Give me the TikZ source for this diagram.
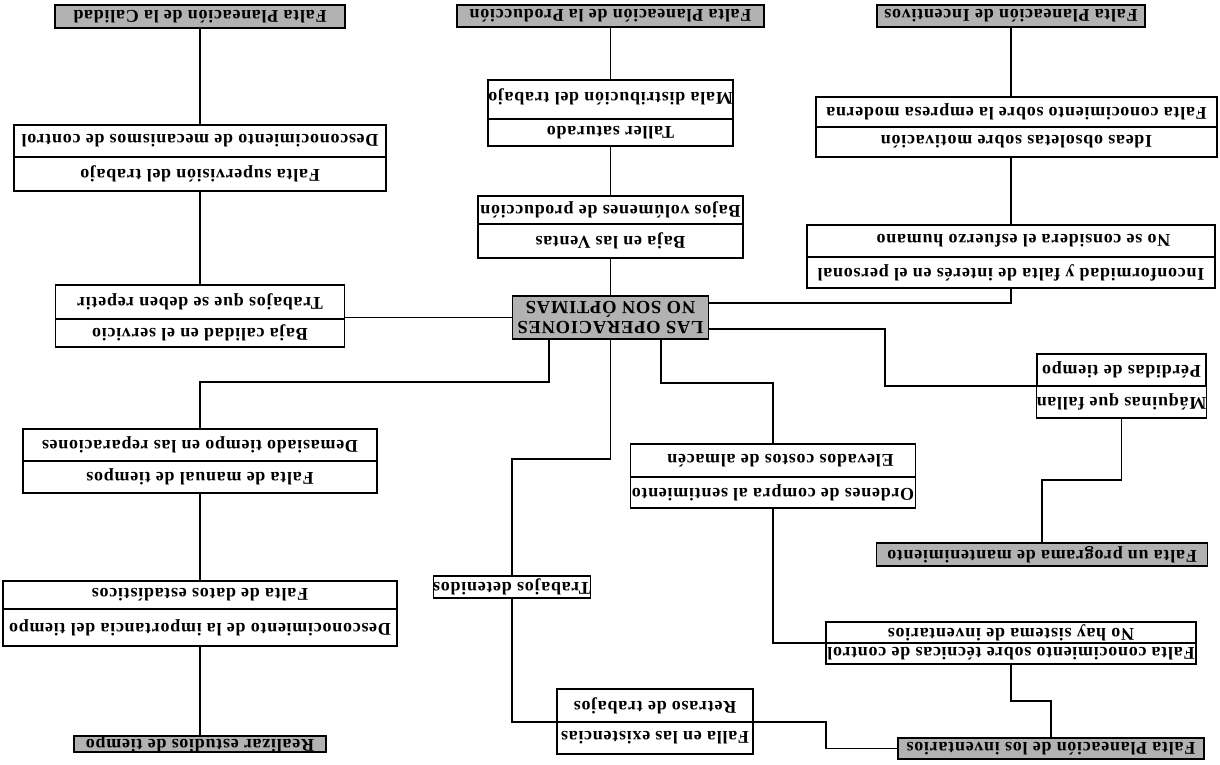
\documentclass[tikz,border=0pt]{standalone}
\usepackage{fontspec}
\setmainfont{Liberation Serif}[LetterSpace=4]
\usetikzlibrary{backgrounds}
\begin{document}
\begin{tikzpicture}[x=1pt,y=-1pt,
  cellbox/.style={draw, line width=1.2pt, fill=white, rotate=180, inner sep=0pt,
    font=\bfseries\fontsize{18pt}{18pt}\selectfont},
  headbox/.style={draw, line width=1.6pt, fill=black!30, rotate=180, inner sep=0pt,
    font=\bfseries\fontsize{18pt}{18pt}\selectfont},
  wire/.style={line width=1.2pt}
]
% page frame
\useasboundingbox (0,0) rectangle (1220,764);

% planning headers (grey)
\node[headbox, minimum width=290pt, minimum height=23pt] (gCal)  at (200,16.5)   {Falta Planeación de la Calidad};
\node[headbox, minimum width=307pt, minimum height=22pt] (gProd) at (610.5,16)   {Falta Planeación de la Producción};
\node[headbox, minimum width=268pt, minimum height=22pt] (gInc)  at (1011,16)    {Falta Planeación de Incentivos};
\node[headbox, minimum width=331pt, minimum height=23pt] (gMant) at (1042,554.5) {Falta un programa de mantenimiento};
\node[headbox, minimum width=306pt, minimum height=21pt] (gInv)  at (1051,748.5) {Falta Planeación de los inventarios};
\node[headbox, minimum width=252pt, minimum height=16pt] (gReal) at (200,744)    {Realizar estudios de tiempo};

% central problem
\node[headbox, minimum width=196pt, minimum height=43pt, align=center,
      font=\bfseries\fontsize{18.5pt}{20.5pt}\selectfont] (main) at (610.5,317.5)
  {LAS OPERACIONES\\NO SON ÓPTIMAS};

% two-cell boxes
\node[cellbox, minimum width=372pt, minimum height=32pt] (A1) at (200,141) {Desconocimiento de mecanismos de control};
\node[cellbox, minimum width=372pt, minimum height=34pt] (A2) at (200,174) {Falta supervisión del trabajo};

\node[cellbox, minimum width=289pt, minimum height=34pt] (B1) at (200,302) {Trabajos que se deben repetir};
\node[cellbox, minimum width=289pt, minimum height=28pt] (B2) at (200,333) {Baja calidad en el servicio};

\node[cellbox, minimum width=354pt, minimum height=32pt] (C1) at (200,445) {Demasiado tiempo en las reparaciones};
\node[cellbox, minimum width=354pt, minimum height=32pt] (C2) at (200,477) {Falta de manual de tiempos};

\node[cellbox, minimum width=394pt, minimum height=28pt] (D1) at (200,595)   {Falta de datos estadísticos};
\node[cellbox, minimum width=394pt, minimum height=37pt] (D2) at (200,627.5) {Desconocimiento de la importancia del tiempo};

\node[cellbox, minimum width=245pt, minimum height=39pt, text height=19pt, text depth=5pt] (E1) at (610.5,99.5)  {Mala distribución del trabajo};
\node[cellbox, minimum width=245pt, minimum height=27pt] (E2) at (610.5,132.5) {Taller saturado};

\node[cellbox, minimum width=265pt, minimum height=28pt] (F1) at (610.5,210) {Bajos volúmenes de producción};
\node[cellbox, minimum width=265pt, minimum height=34pt] (F2) at (610.5,241) {Baja en las Ventas};

\node[cellbox, minimum width=401pt, minimum height=30pt] (G1) at (1016.5,112) {Falta conocimiento sobre la empresa moderna};
\node[cellbox, minimum width=401pt, minimum height=30pt] (G2) at (1016.5,142) {Ideas obsoletas sobre motivación};

\node[cellbox, minimum width=408pt, minimum height=32pt] (H1) at (1011,241)   {No se considera el esfuerzo humano\hspace*{25pt}};
\node[cellbox, minimum width=408pt, minimum height=31pt] (H2) at (1011,272.5) {Inconformidad y falta de interés en el personal};

\node[cellbox, minimum width=169pt, minimum height=32pt] (I1) at (1121.5,370) {Pérdidas de tiempo};
\node[cellbox, minimum width=169pt, minimum height=32pt] (I2) at (1121.5,402) {Máquinas que fallan};

\node[cellbox, minimum width=285pt, minimum height=33pt] (J1) at (773,460.5) {Elevados costos de almacén\hspace*{15pt}};
\node[cellbox, minimum width=285pt, minimum height=31pt] (J2) at (773,492.5) {Ordenes de compra al sentimiento};

\node[cellbox, minimum width=370pt, minimum height=21pt] (K1) at (1011,632.5) {No hay sistema de inventarios};
\node[cellbox, minimum width=370pt, minimum height=21pt] (K2) at (1011,653.5) {Falta conocimiento sobre técnicas de control};

\node[cellbox, minimum width=196pt, minimum height=33pt] (L1) at (655,705.5) {Retraso de trabajos};
\node[cellbox, minimum width=196pt, minimum height=32pt] (L2) at (655,738)   {Falla en las existencias};

\node[cellbox, minimum width=157pt, minimum height=22pt] (TD) at (512,587) {Trabajos detenidos};

% connectors, kept behind the boxes
\begin{scope}[on background layer]
  \fill[white] (0,0) rectangle (1220,764);
  % quality branch
  \draw[wire] (gCal) -- (A1);
  \draw[wire] (A2) -- (B1);
  \draw[wire] (main) -- (main -| B1);
  % time-study branch
  \coordinate (c1) at (549,382);
  \draw[wire] (c1 |- main) -- (c1) -| (C1);
  \draw[wire] (C2) -- (D1);
  \draw[wire] (D2) -- (gReal);
  % production branch
  \draw[wire] (gProd) -- (E1);
  \draw[wire] (E2) -- (F1);
  \draw[wire] (F2) -- (main);
  % incentives branch
  \draw[wire] (gInc) -- (gInc |- G1);
  \draw[wire] (G2 -| H1) -- (H1);
  \coordinate (c2) at (1011,303);
  \draw[wire] (H2) -- (c2) -- (c2 -| main);
  % maintenance branch
  \coordinate (c3) at (885,329);
  \coordinate (c4) at (885,386);
  \draw[wire] (c3 -| main) -- (c3) -- (c4) -- (c4 -| I1);
  \coordinate (c5) at (1042,480);
  \draw[wire] (I2) |- (c5) -- (gMant);
  % inventory branch
  \coordinate (c6) at (661,383);
  \draw[wire] (c6 |- main) -- (c6) -| (J1);
  \coordinate (c7) at (773,643);
  \draw[wire] (J2) -- (c7) -- (c7 -| K1);
  \coordinate (c8) at (1011,701);
  \draw[wire] (K2) -- (c8) -| (gInv);
  \coordinate (c9) at (512,459);
  \draw[wire] (main) |- (c9) -- (TD);
  \coordinate (c10) at (826,722);
  \draw[wire] (TD) |- (c10) |- (gInv);
\end{scope}
\end{tikzpicture}
\end{document}
